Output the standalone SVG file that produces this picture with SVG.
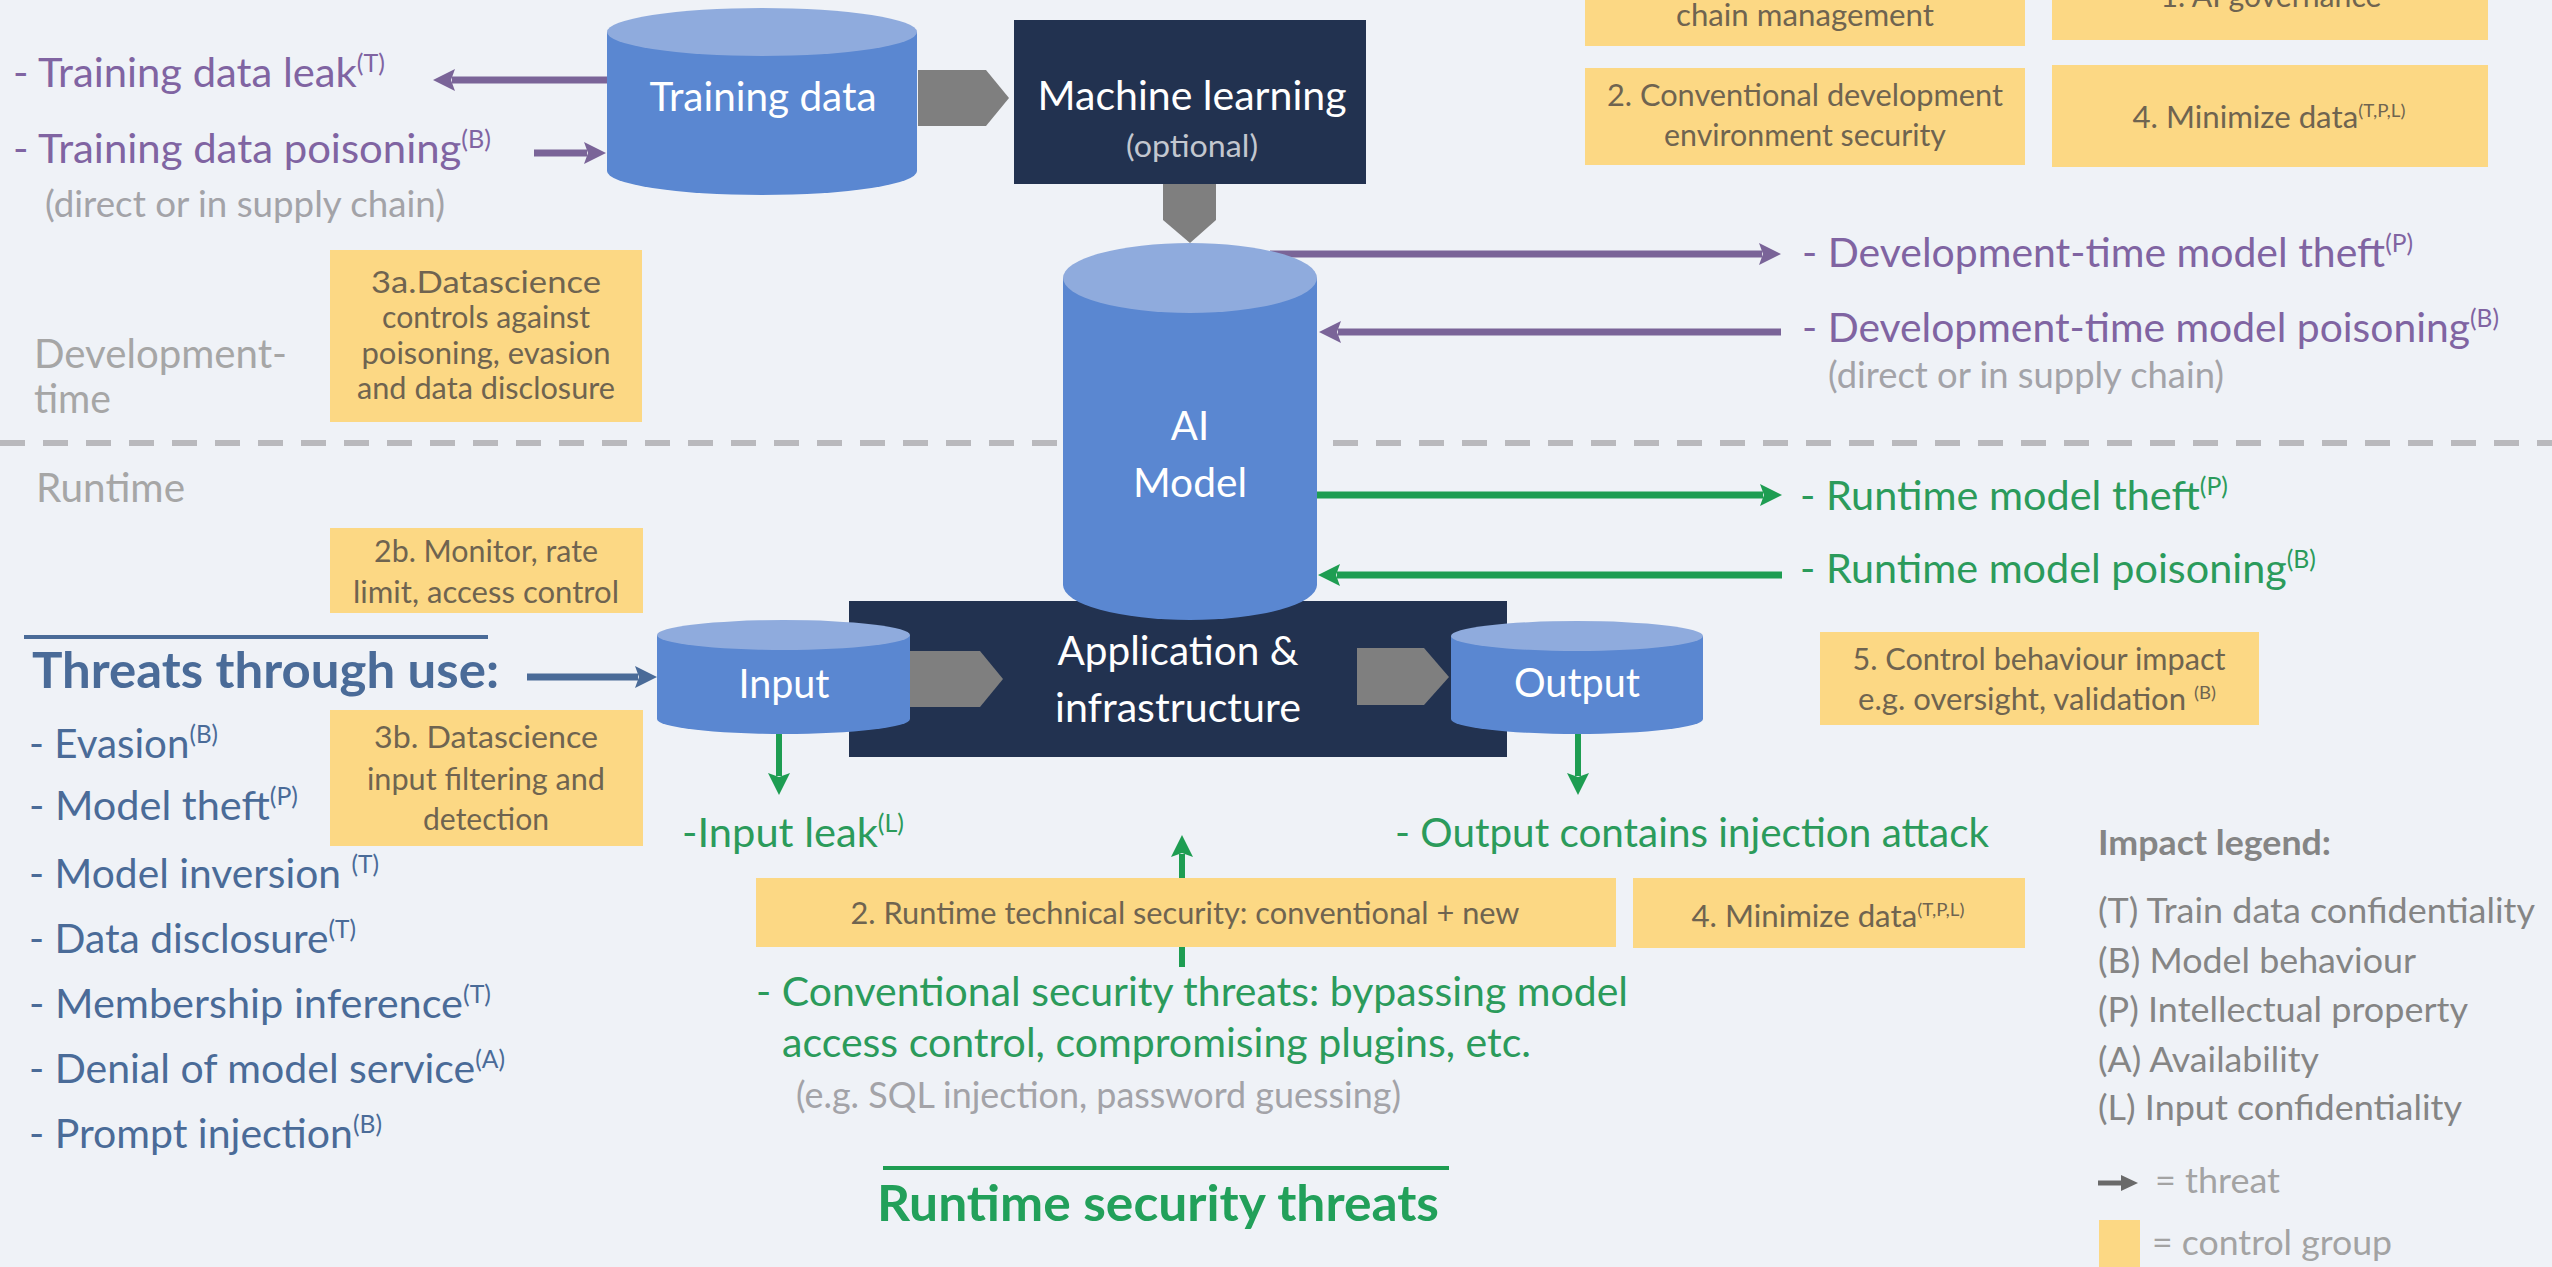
<svg xmlns="http://www.w3.org/2000/svg" width="2552" height="1267" viewBox="0 0 2552 1267">
<defs>
<style>
text{font-family:Lato,"Open Sans","Liberation Sans",sans-serif}
.lbl{fill:#ffffff;font-size:40px;text-anchor:middle}
.opt{fill:#c3c7cf;font-size:31px;text-anchor:middle}
.box{fill:#fcd884}
.bt{fill:#6f6450;font-size:30px;text-anchor:middle}
.pu{fill:#8064a2;font-size:41px}
.gr{fill:#2b9b5b;font-size:41px}
.st{fill:#4a6b98;font-size:41px}
.gy{fill:#a6a6a6;font-size:41px}
.gys{fill:#a3a3a8;font-size:36px}
.lg{fill:#858585;font-size:35px}
.body{fill:#5a87d1}
.top{fill:#8fabdd}
.navy{fill:#223250}
.chev{fill:#7f7f7f}
.ap{stroke:#7a6498;stroke-width:7;fill:none}
.ag{stroke:#1e9d52;stroke-width:7;fill:none}
.as{stroke:#4a6b98;stroke-width:7;fill:none}
.sup{font-size:60%}
</style>
<marker id="mp" markerUnits="userSpaceOnUse" markerWidth="22" markerHeight="22" viewBox="0 0 22 22" refX="3" refY="11" orient="auto"><path d="M0,0 L22,11 L0,22 L4,11 Z" fill="#7a6498"/></marker>
<marker id="mg" markerUnits="userSpaceOnUse" markerWidth="22" markerHeight="22" viewBox="0 0 22 22" refX="3" refY="11" orient="auto"><path d="M0,0 L22,11 L0,22 L4,11 Z" fill="#1e9d52"/></marker>
<marker id="ms" markerUnits="userSpaceOnUse" markerWidth="22" markerHeight="22" viewBox="0 0 22 22" refX="3" refY="11" orient="auto"><path d="M0,0 L22,11 L0,22 L4,11 Z" fill="#4a6b98"/></marker>
</defs>
<rect width="2552" height="1267" fill="#eff2f7"/>

<g id="separator">
<line x1="0" y1="443" x2="2552" y2="443" stroke="#b9b9bd" stroke-width="6" stroke-dasharray="25 18"/>
<text class="gy" x="34" y="368" textLength="253" lengthAdjust="spacingAndGlyphs">Development-</text>
<text class="gy" x="34" y="413" textLength="77" lengthAdjust="spacingAndGlyphs">time</text>
<text class="gy" x="36" y="502" textLength="149" lengthAdjust="spacingAndGlyphs">Runtime</text>
</g>

<g id="connectors">
<line class="ap" x1="607" y1="80" x2="452" y2="80" marker-end="url(#mp)"/>
<line class="ap" x1="534" y1="153" x2="587" y2="153" marker-end="url(#mp)"/>
<line class="ap" x1="1270" y1="254" x2="1762" y2="254" marker-end="url(#mp)"/>
<line class="ap" x1="1781" y1="332" x2="1338" y2="332" marker-end="url(#mp)"/>
<line class="ag" x1="1300" y1="495" x2="1763" y2="495" marker-end="url(#mg)"/>
<line class="ag" x1="1782" y1="575" x2="1337" y2="575" marker-end="url(#mg)"/>
<line class="as" x1="527" y1="677" x2="638" y2="677" marker-end="url(#ms)"/>
<line class="ag" style="stroke-width:6" x1="779" y1="734" x2="779" y2="776" marker-end="url(#mg)"/>
<line class="ag" style="stroke-width:6" x1="1578" y1="734" x2="1578" y2="776" marker-end="url(#mg)"/>
<line class="ag" style="stroke-width:6" x1="1182" y1="967" x2="1182" y2="854" marker-end="url(#mg)"/>
</g>

<g id="training-data">
<path class="body" d="M607,32 L607,171 A155,24 0 0 0 917,171 L917,32 Z"/>
<ellipse class="top" cx="762" cy="32" rx="155" ry="24"/>
<text class="lbl" x="763" y="111" textLength="227" lengthAdjust="spacingAndGlyphs">Training data</text>
</g>

<g id="machine-learning">
<rect class="navy" x="1014" y="20" width="352" height="164"/>
<text class="lbl" x="1192" y="110" textLength="309" lengthAdjust="spacingAndGlyphs">Machine learning</text>
<text class="opt" x="1192" y="157" textLength="132" lengthAdjust="spacingAndGlyphs">(optional)</text>
</g>

<g id="chevron-td-ml"><polygon class="chev" points="918,70 986,70 1009,98 986,126 918,126"/></g>
<g id="chevron-ml-ai"><polygon class="chev" points="1163,184 1216,184 1216,220 1190,243 1163,220"/></g>

<g id="application">
<rect class="navy" x="849" y="601" width="658" height="156"/>
<text class="lbl" x="1178" y="665" textLength="241" lengthAdjust="spacingAndGlyphs">Application &amp;</text>
<text class="lbl" x="1178" y="722" textLength="246" lengthAdjust="spacingAndGlyphs">infrastructure</text>
</g>

<g id="input">
<path class="body" d="M657,635 L657,719 A126.5,15 0 0 0 910,719 L910,635 Z"/>
<ellipse class="top" cx="783.5" cy="635" rx="126.5" ry="15"/>
<text class="lbl" x="784" y="698" textLength="91" lengthAdjust="spacingAndGlyphs">Input</text>
</g>

<g id="output">
<path class="body" d="M1451,636 L1451,719 A126,15 0 0 0 1703,719 L1703,636 Z"/>
<ellipse class="top" cx="1577" cy="636" rx="126" ry="15"/>
<text class="lbl" x="1577" y="697" textLength="126" lengthAdjust="spacingAndGlyphs">Output</text>
</g>

<g id="chevron-in-app"><polygon class="chev" points="910,651 980,651 1003,679 980,707 910,707"/></g>
<g id="chevron-app-out"><polygon class="chev" points="1357,648 1424,648 1449,677 1424,705 1357,705"/></g>

<g id="ai-model">
<path class="body" d="M1063,278 L1063,585 A127,35 0 0 0 1317,585 L1317,278 Z"/>
<ellipse class="top" cx="1190" cy="278" rx="127" ry="35"/>
<text class="lbl" x="1190" y="440">AI</text>
<text class="lbl" x="1190" y="497" textLength="114" lengthAdjust="spacingAndGlyphs">Model</text>
</g>

<g id="control-supply-chain">
<rect class="box" x="1585" y="-10" width="440" height="56"/>
<text class="bt" x="1805" y="26" textLength="258" lengthAdjust="spacingAndGlyphs">chain management</text>
</g>
<g id="control-ai-governance">
<rect class="box" x="2052" y="-10" width="436" height="50"/>
<text class="bt" x="2271" y="7" textLength="221" lengthAdjust="spacingAndGlyphs">1. AI governance</text>
</g>
<g id="control-dev-env">
<rect class="box" x="1585" y="68" width="440" height="97"/>
<text class="bt" x="1805" y="106" textLength="396" lengthAdjust="spacingAndGlyphs">2. Conventional development</text>
<text class="bt" x="1805" y="146" textLength="282" lengthAdjust="spacingAndGlyphs">environment security</text>
</g>
<g id="control-minimize-top">
<rect class="box" x="2052" y="65" width="436" height="102"/>
<text class="bt" x="2269" y="128" textLength="273" lengthAdjust="spacingAndGlyphs">4. Minimize data<tspan class="sup" dy="-11">(T,P,L)</tspan></text>
</g>
<g id="control-3a">
<rect class="box" x="330" y="250" width="312" height="172"/>
<text class="bt" x="486" y="293" textLength="230" lengthAdjust="spacingAndGlyphs">3a.Datascience</text>
<text class="bt" x="486" y="328" textLength="208" lengthAdjust="spacingAndGlyphs">controls against</text>
<text class="bt" x="486" y="364" textLength="249" lengthAdjust="spacingAndGlyphs">poisoning, evasion</text>
<text class="bt" x="486" y="399" textLength="258" lengthAdjust="spacingAndGlyphs">and data disclosure</text>
</g>
<g id="control-2b">
<rect class="box" x="330" y="528" width="313" height="85"/>
<text class="bt" x="486" y="562" textLength="224" lengthAdjust="spacingAndGlyphs">2b. Monitor, rate</text>
<text class="bt" x="486" y="603" textLength="266" lengthAdjust="spacingAndGlyphs">limit, access control</text>
</g>
<g id="control-3b">
<rect class="box" x="330" y="710" width="313" height="136"/>
<text class="bt" x="486" y="748" textLength="224" lengthAdjust="spacingAndGlyphs">3b. Datascience</text>
<text class="bt" x="486" y="790" textLength="238" lengthAdjust="spacingAndGlyphs">input filtering and</text>
<text class="bt" x="486" y="830" textLength="126" lengthAdjust="spacingAndGlyphs">detection</text>
</g>
<g id="control-5">
<rect class="box" x="1820" y="632" width="439" height="93"/>
<text class="bt" x="2039" y="670" textLength="373" lengthAdjust="spacingAndGlyphs">5. Control behaviour impact</text>
<text class="bt" x="2037" y="710" textLength="358" lengthAdjust="spacingAndGlyphs">e.g. oversight, validation <tspan class="sup" dy="-11">(B)</tspan></text>
</g>
<g id="control-2-runtime">
<rect class="box" x="756" y="878" width="860" height="69"/>
<text class="bt" x="1185" y="924" textLength="669" lengthAdjust="spacingAndGlyphs">2. Runtime technical security: conventional +  new</text>
</g>
<g id="control-minimize-bottom">
<rect class="box" x="1633" y="878" width="392" height="70"/>
<text class="bt" x="1828" y="927" textLength="273" lengthAdjust="spacingAndGlyphs">4. Minimize data<tspan class="sup" dy="-11">(T,P,L)</tspan></text>
</g>

<g id="threat-labels-dev">
<text class="pu" x="13" y="87" textLength="372" lengthAdjust="spacingAndGlyphs">- Training data leak<tspan class="sup" dy="-15">(T)</tspan></text>
<text class="pu" x="13" y="163" textLength="478" lengthAdjust="spacingAndGlyphs">- Training data poisoning<tspan class="sup" dy="-15">(B)</tspan></text>
<text class="gys" x="45" y="217" textLength="400" lengthAdjust="spacingAndGlyphs">(direct or in supply chain)</text>
<text class="pu" x="1802" y="267" textLength="611" lengthAdjust="spacingAndGlyphs">- Development-time model theft<tspan class="sup" dy="-15">(P)</tspan></text>
<text class="pu" x="1802" y="342" textLength="697" lengthAdjust="spacingAndGlyphs">- Development-time model poisoning<tspan class="sup" dy="-15">(B)</tspan></text>
<text class="gys" x="1828" y="388" textLength="396" lengthAdjust="spacingAndGlyphs">(direct or in supply chain)</text>
</g>

<g id="threat-labels-runtime">
<text class="gr" x="1800" y="510" textLength="428" lengthAdjust="spacingAndGlyphs">- Runtime model theft<tspan class="sup" dy="-15">(P)</tspan></text>
<text class="gr" x="1800" y="583" textLength="516" lengthAdjust="spacingAndGlyphs">- Runtime model poisoning<tspan class="sup" dy="-15">(B)</tspan></text>
<text class="gr" x="682" y="847" textLength="222" lengthAdjust="spacingAndGlyphs">-Input leak<tspan class="sup" dy="-15">(L)</tspan></text>
<text class="gr" x="1395" y="847" textLength="594" lengthAdjust="spacingAndGlyphs">- Output contains injection attack</text>
<text class="gr" x="756" y="1006" textLength="872" lengthAdjust="spacingAndGlyphs">- Conventional security threats: bypassing model</text>
<text class="gr" x="782" y="1057" textLength="749" lengthAdjust="spacingAndGlyphs">access control, compromising plugins, etc.</text>
<text class="gys" x="796" y="1108" textLength="605" lengthAdjust="spacingAndGlyphs">(e.g. SQL injection, password guessing)</text>
<line x1="883" y1="1168" x2="1449" y2="1168" stroke="#1e9d52" stroke-width="4"/>
<text class="gr" x="877" y="1221" textLength="562" lengthAdjust="spacingAndGlyphs" style="font-size:50px;font-weight:bold;fill:#22a05a">Runtime security threats</text>
</g>

<g id="threats-through-use">
<line x1="24" y1="637" x2="488" y2="637" stroke="#4a6b98" stroke-width="4"/>
<text class="st" x="32" y="688" textLength="467" lengthAdjust="spacingAndGlyphs" style="font-size:50px;font-weight:bold">Threats through use:</text>
<text class="st" x="29" y="758" textLength="189" lengthAdjust="spacingAndGlyphs">- Evasion<tspan class="sup" dy="-15">(B)</tspan></text>
<text class="st" x="29" y="820" textLength="269" lengthAdjust="spacingAndGlyphs">- Model theft<tspan class="sup" dy="-15">(P)</tspan></text>
<text class="st" x="29" y="888" textLength="350" lengthAdjust="spacingAndGlyphs">- Model inversion <tspan class="sup" dy="-15">(T)</tspan></text>
<text class="st" x="29" y="953" textLength="327" lengthAdjust="spacingAndGlyphs">- Data disclosure<tspan class="sup" dy="-15">(T)</tspan></text>
<text class="st" x="29" y="1018" textLength="462" lengthAdjust="spacingAndGlyphs">- Membership inference<tspan class="sup" dy="-15">(T)</tspan></text>
<text class="st" x="29" y="1083" textLength="476" lengthAdjust="spacingAndGlyphs">- Denial of model service<tspan class="sup" dy="-15">(A)</tspan></text>
<text class="st" x="29" y="1148" textLength="353" lengthAdjust="spacingAndGlyphs">- Prompt injection<tspan class="sup" dy="-15">(B)</tspan></text>
</g>

<g id="legend">
<text class="lg" x="2098" y="855" textLength="233" lengthAdjust="spacingAndGlyphs" style="font-weight:bold">Impact legend:</text>
<text class="lg" x="2098" y="923" textLength="437" lengthAdjust="spacingAndGlyphs">(T) Train data confidentiality</text>
<text class="lg" x="2098" y="973" textLength="318" lengthAdjust="spacingAndGlyphs">(B) Model behaviour</text>
<text class="lg" x="2098" y="1022" textLength="370" lengthAdjust="spacingAndGlyphs">(P) Intellectual property</text>
<text class="lg" x="2098" y="1072" textLength="221" lengthAdjust="spacingAndGlyphs">(A) Availability</text>
<text class="lg" x="2098" y="1120" textLength="364" lengthAdjust="spacingAndGlyphs">(L) Input confidentiality</text>
<line x1="2098" y1="1183" x2="2124" y2="1183" stroke="#6a6a6a" stroke-width="5"/>
<polygon points="2121,1175 2138,1183 2121,1191" fill="#6a6a6a"/>
<text class="lg" x="2155" y="1193" textLength="125" lengthAdjust="spacingAndGlyphs" style="fill:#a3a3a3">= threat</text>
<rect class="box" x="2099" y="1220" width="41" height="60"/>
<text class="lg" x="2152" y="1255" textLength="240" lengthAdjust="spacingAndGlyphs" style="fill:#a3a3a3">= control group</text>
</g>
</svg>
